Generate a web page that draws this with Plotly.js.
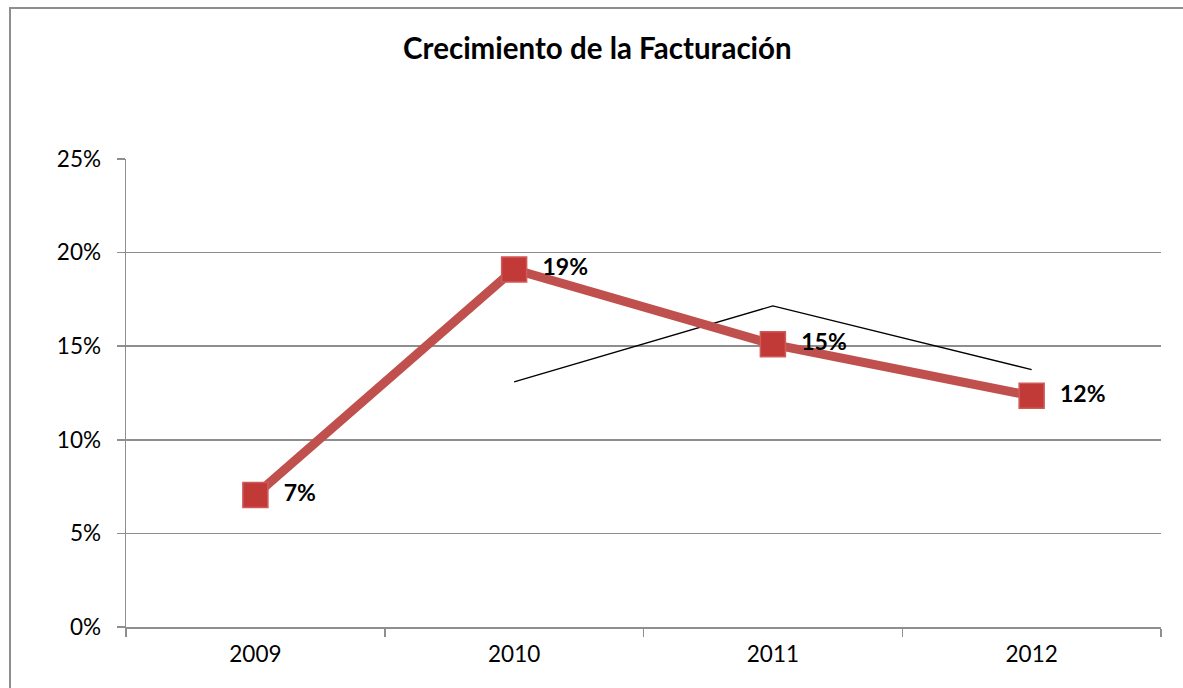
<!DOCTYPE html>
<html>
<head>
<meta charset="utf-8">
<script src="https://cdn.plot.ly/plotly-3.0.1.min.js"></script>
<style>
  html, body { margin:0; padding:0; width:1183px; height:688px; overflow:hidden; background:#fff; }
  #frame { position:absolute; left:9px; top:7px; width:1300px; height:800px; border:2px solid #8e8e8e; box-sizing:border-box; }
  #chart { position:absolute; left:0; top:0; width:1183px; height:688px; }
</style>
</head>
<body>
<div id="frame"></div>
<div id="chart"></div>
<script>
const years = ["2009", "2010", "2011", "2012"];
const growth = [7.05, 19.1, 15.1, 12.35];
const growthLabels = ["7%", "19%", "15%", "12%"];
const drawnLine = [null, 13.1, 17.15, 13.75];
const yTicks = [0, 5, 10, 15, 20, 25];
const yTickLabels = ["0%", "5%", "10%", "15%", "20%", "25%"];

const fontFam = "Lato, 'Open Sans', sans-serif";

const traces = [
  {
    x: years, y: drawnLine, type: "scatter", mode: "lines",
    line: { color: "#000000", width: 1.3 },
    hoverinfo: "skip", showlegend: false
  },
  {
    x: years, y: growth, type: "scatter", mode: "lines+markers+text",
    line: { color: "#C0504D", width: 9 },
    marker: { symbol: "square", size: 25, color: "#C23A38", line: { color: "#D05A58", width: 1.5 } },
    text: growthLabels,
    textposition: "middle right",
    textfont: { family: fontFam, size: 23, color: "#000" },
    texttemplate: "\u00a0\u00a0<b>%{text}</b>",
    showlegend: false
  }
];

const layout = {
  width: 1183, height: 688,
  paper_bgcolor: "rgba(0,0,0,0)",
  plot_bgcolor: "rgba(0,0,0,0)",
  margin: { l: 126, r: 22, t: 159, b: 61 },
  title: {
    text: "<b>Crecimiento de la Facturación</b>",
    font: { family: fontFam, size: 29.5, color: "#000" },
    x: 0.505, xref: "container", xanchor: "center",
    y: 1 - 49/688, yref: "container", yanchor: "middle"
  },
  xaxis: {
    type: "category", range: [-0.5, 3.5],
    tickson: "boundaries", ticks: "outside", ticklen: 8, tickcolor: "#8e8e8e", tickwidth: 1.5,
    showline: true, linecolor: "#8e8e8e", linewidth: 1.5,
    showgrid: false, zeroline: false,
    tickfont: { family: fontFam, size: 22.5, color: "#000" },
    ticklabelstandoff: 6
  },
  yaxis: {
    range: [0, 25], tickvals: yTicks, ticktext: yTickLabels,
    ticks: "outside", ticklen: 8, tickcolor: "#8e8e8e", tickwidth: 1.5,
    showline: true, linecolor: "#8e8e8e", linewidth: 1.5,
    showgrid: true, gridcolor: "#8e8e8e", gridwidth: 1.5,
    zeroline: false,
    tickfont: { family: fontFam, size: 22.5, color: "#000" },
    ticklabelstandoff: 11
  }
};

Plotly.newPlot("chart", traces, layout, { displayModeBar: false, staticPlot: true });
</script>
</body>
</html>
